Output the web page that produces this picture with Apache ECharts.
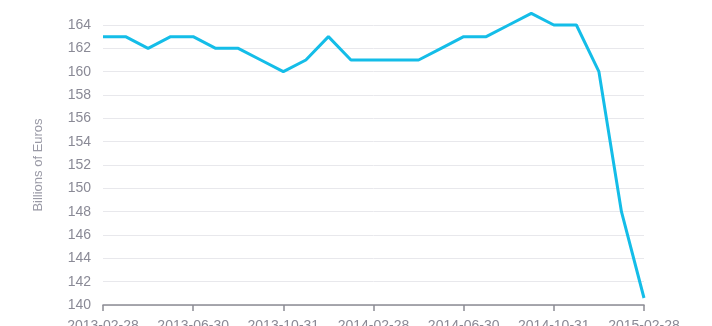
<!DOCTYPE html>
<html>
<head>
<meta charset="utf-8">
<script src="https://cdn.jsdelivr.net/npm/echarts@6/dist/echarts.min.js"></script>
<style>html,body{margin:0;padding:0;background:#fff;}#c{width:712px;height:326px;}</style>
</head>
<body>
<div id="c"></div>
<script>
const months = ['2013-02-28','2013-03-31','2013-04-30','2013-05-31','2013-06-30','2013-07-31','2013-08-31','2013-09-30','2013-10-31','2013-11-30','2013-12-31','2014-01-31','2014-02-28','2014-03-31','2014-04-30','2014-05-31','2014-06-30','2014-07-31','2014-08-31','2014-09-30','2014-10-31','2014-11-30','2014-12-31','2015-01-31','2015-02-28'];
const values = [163,163,162,163,163,162,162,161,160,161,163,161,161,161,161,162,163,163,164,165,164,164,160,148,140.6];
const yTicks = [140,142,144,146,148,150,152,154,156,158,160,162,164];

const chart = echarts.init(document.getElementById('c'), null, {renderer:'canvas'});
chart.setOption({
  animation:false,
  grid:{left:103,right:68,top:25,height:280,containLabel:false,outerBoundsMode:'none'},
  xAxis:{
    type:'category',
    data:months,
    boundaryGap:false,
    axisLine:{lineStyle:{color:'#8c8c94',width:1.5}},
    axisTick:{interval:3,length:6,lineStyle:{color:'#8c8c94',width:1.5}},
    axisLabel:{interval:3,margin:14,color:'#8a8a96',fontSize:14,fontFamily:'Liberation Sans',hideOverlap:false},
    splitLine:{show:false}
  },
  yAxis:{
    type:'value',
    min:yTicks[0],
    max:yTicks[yTicks.length-1],
    interval:2,
    name:'Billions of Euros',
    nameLocation:'middle',
    nameGap:58,
    nameTextStyle:{color:'#9a9aa6',fontSize:13,fontFamily:'Liberation Sans'},
    axisLine:{show:false},
    axisTick:{show:false},
    axisLabel:{margin:12,color:'#8a8a96',fontSize:14,fontFamily:'Liberation Sans'},
    splitLine:{lineStyle:{color:'#e8e8ec',width:1}}
  },
  series:[{
    type:'line',
    data:values,
    clip:false,
    symbol:'none',
    lineStyle:{color:'#14bde8',width:3}
  }]
});
</script>
</body>
</html>
